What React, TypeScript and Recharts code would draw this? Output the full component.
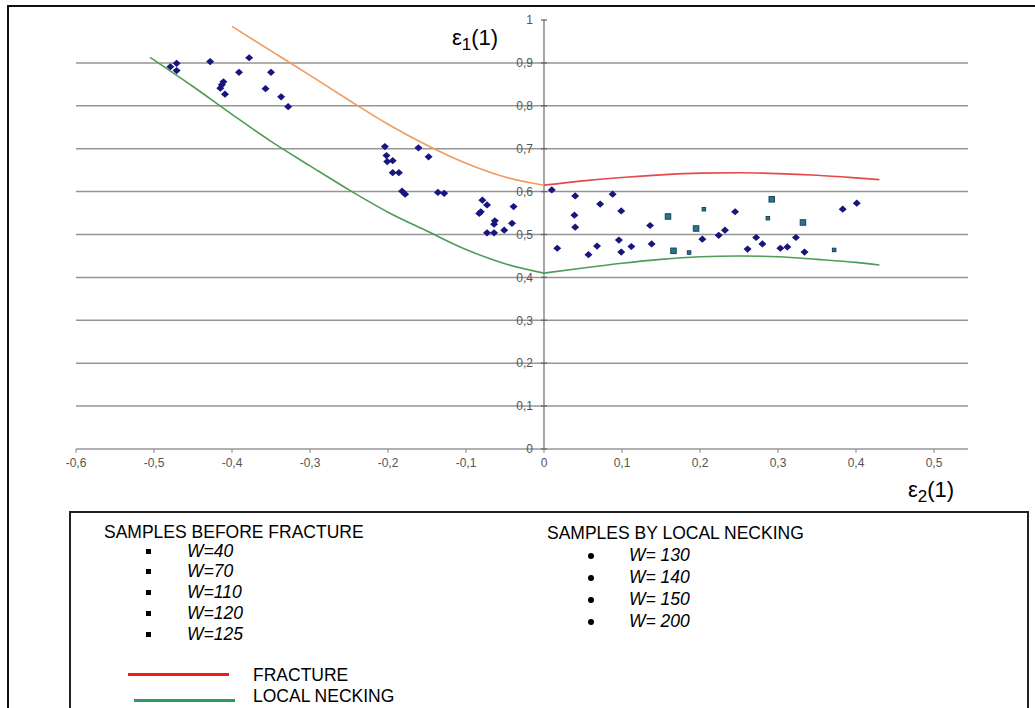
import {
  ComposedChart, XAxis, YAxis, Line, Scatter, ReferenceLine, ReferenceDot,
} from 'recharts'

const FONT = 'Arial, "Liberation Sans", sans-serif'

// axis ticks and grid
const xTicks = [-0.6, -0.5, -0.4, -0.3, -0.2, -0.1, 0, 0.1, 0.2, 0.3, 0.4, 0.5]
const yTicks = [0, 0.1, 0.2, 0.3, 0.4, 0.5, 0.6, 0.7, 0.8, 0.9, 1]
const gridValues = [0.1, 0.2, 0.3, 0.4, 0.5, 0.6, 0.7, 0.8, 0.9]

// limit curves
const fractureLeft = [
  { x: -0.4, y: 0.985 }, { x: -0.35, y: 0.928 }, { x: -0.3, y: 0.871 },
  { x: -0.25, y: 0.813 }, { x: -0.2, y: 0.757 }, { x: -0.15, y: 0.708 },
  { x: -0.1, y: 0.666 }, { x: -0.05, y: 0.634 }, { x: 0, y: 0.615 },
]
const fractureRight = [
  { x: 0, y: 0.615 }, { x: 0.05, y: 0.625 }, { x: 0.1, y: 0.633 },
  { x: 0.15, y: 0.639 }, { x: 0.2, y: 0.643 }, { x: 0.25, y: 0.644 },
  { x: 0.3, y: 0.642 }, { x: 0.35, y: 0.638 }, { x: 0.4, y: 0.632 },
  { x: 0.43, y: 0.628 },
]
const neckingLeft = [
  { x: -0.505, y: 0.913 }, { x: -0.45, y: 0.845 }, { x: -0.4, y: 0.78 },
  { x: -0.35, y: 0.717 }, { x: -0.3, y: 0.66 }, { x: -0.25, y: 0.604 },
  { x: -0.2, y: 0.552 }, { x: -0.15, y: 0.508 }, { x: -0.1, y: 0.465 },
  { x: -0.05, y: 0.432 }, { x: 0, y: 0.41 },
]
const neckingRight = [
  { x: 0, y: 0.41 }, { x: 0.05, y: 0.422 }, { x: 0.1, y: 0.433 },
  { x: 0.15, y: 0.442 }, { x: 0.2, y: 0.448 }, { x: 0.25, y: 0.45 },
  { x: 0.3, y: 0.448 }, { x: 0.35, y: 0.442 }, { x: 0.4, y: 0.435 },
  { x: 0.43, y: 0.429 },
]

// measured samples
const diamondPoints = [
  { x: -0.471, y: 0.899 }, { x: -0.479, y: 0.891 }, { x: -0.471, y: 0.882 },
  { x: -0.428, y: 0.903 }, { x: -0.378, y: 0.912 }, { x: -0.391, y: 0.878 },
  { x: -0.35, y: 0.878 }, { x: -0.411, y: 0.856 }, { x: -0.413, y: 0.849 },
  { x: -0.415, y: 0.841 }, { x: -0.409, y: 0.827 }, { x: -0.357, y: 0.84 },
  { x: -0.337, y: 0.821 }, { x: -0.328, y: 0.798 },
  { x: -0.204, y: 0.705 }, { x: -0.202, y: 0.684 }, { x: -0.201, y: 0.67 },
  { x: -0.194, y: 0.672 }, { x: -0.194, y: 0.644 }, { x: -0.186, y: 0.644 },
  { x: -0.182, y: 0.601 }, { x: -0.178, y: 0.594 }, { x: -0.161, y: 0.702 },
  { x: -0.148, y: 0.681 }, { x: -0.136, y: 0.598 }, { x: -0.128, y: 0.596 },
  { x: -0.079, y: 0.58 }, { x: -0.073, y: 0.569 }, { x: -0.081, y: 0.553 },
  { x: -0.083, y: 0.549 }, { x: -0.063, y: 0.532 }, { x: -0.064, y: 0.524 },
  { x: -0.039, y: 0.565 }, { x: -0.041, y: 0.526 }, { x: -0.073, y: 0.504 },
  { x: -0.064, y: 0.504 }, { x: -0.051, y: 0.51 },
  { x: 0.01, y: 0.604 }, { x: 0.017, y: 0.468 }, { x: 0.04, y: 0.59 },
  { x: 0.088, y: 0.594 }, { x: 0.072, y: 0.571 }, { x: 0.099, y: 0.555 },
  { x: 0.039, y: 0.545 }, { x: 0.04, y: 0.517 }, { x: 0.136, y: 0.521 },
  { x: 0.057, y: 0.453 }, { x: 0.068, y: 0.473 }, { x: 0.096, y: 0.487 },
  { x: 0.099, y: 0.459 }, { x: 0.112, y: 0.472 }, { x: 0.138, y: 0.478 },
  { x: 0.203, y: 0.489 }, { x: 0.224, y: 0.498 },
  { x: 0.245, y: 0.553 }, { x: 0.232, y: 0.51 }, { x: 0.272, y: 0.493 },
  { x: 0.28, y: 0.478 }, { x: 0.261, y: 0.466 }, { x: 0.303, y: 0.468 },
  { x: 0.312, y: 0.471 }, { x: 0.323, y: 0.493 }, { x: 0.334, y: 0.459 },
  { x: 0.383, y: 0.559 }, { x: 0.401, y: 0.573 },
]
const squarePoints = [
  { x: 0.159, y: 0.542 }, { x: 0.195, y: 0.514 }, { x: 0.166, y: 0.462 },
  { x: 0.292, y: 0.582 }, { x: 0.332, y: 0.528 },
]
const smallSquarePoints = [
  { x: 0.205, y: 0.559 }, { x: 0.186, y: 0.458 }, { x: 0.287, y: 0.538 },
  { x: 0.372, y: 0.464 },
]

// legend entries
const legendBefore = ['W=40', 'W=70', 'W=110', 'W=120', 'W=125']
const legendNecking = ['W= 130', 'W= 140', 'W= 150', 'W= 200']

const fmt = (v: number) => String(Number(v.toFixed(1))).replace('.', ',')

const Diamond = (p: any) => {
  const { cx, cy } = p
  if (cx == null || cy == null) return null
  return (
    <path
      d={`M${cx},${cy - 3.6} L${cx + 4},${cy} L${cx},${cy + 3.6} L${cx - 4},${cy} Z`}
      fill="#16167e"
    />
  )
}

const makeSquare = (s: number) => (p: any) => {
  const { cx, cy } = p
  if (cx == null || cy == null) return null
  return (
    <rect x={cx - s / 2} y={cy - s / 2} width={s} height={s}
      fill="#2d7390" stroke="#17445a" strokeWidth={1} />
  )
}

const YTickMark = (p: any) => {
  const { cx, cy, label } = p
  return (
    <g>
      <line x1={cx - 3} x2={cx + 3} y1={cy} y2={cy} stroke="#666" strokeWidth={1.3} />
      <text x={cx - 11} y={cy} dy="0.35em" textAnchor="end"
        fontSize={12} fill="#555" fontFamily={FONT}>{label}</text>
    </g>
  )
}

export default function App() {
  return (
    <div style={{
      position: 'absolute', left: 0, top: 0, width: 1035, height: 708,
      overflow: 'hidden', background: '#fff', fontFamily: FONT,
    }}>
      {/* outer frame */}
      <div style={{
        position: 'absolute', left: 7, top: 5, width: 1100, height: 800,
        borderTop: '2px solid #111', borderLeft: '2px solid #111',
      }} />

      <div style={{ position: 'absolute', left: 0, top: 0 }}>
        <ComposedChart width={1035} height={500}
          margin={{ top: 20, right: 67, left: 76, bottom: 21 }}>
          <XAxis
            type="number"
            dataKey="x"
            domain={[-0.6, 0.5436]}
            allowDataOverflow
            ticks={xTicks}
            interval={0}
            tickFormatter={fmt}
            height={30}
            tickSize={4}
            tickMargin={5}
            tick={{ fontSize: 12, fill: '#555', fontFamily: FONT }}
            tickLine={{ stroke: '#888' }}
            axisLine={{ stroke: '#999', strokeWidth: 1.5 }}
          />
          <YAxis type="number" dataKey="y" domain={[0, 1]} hide allowDataOverflow />

          {gridValues.map(v => (
            <ReferenceLine key={`g${v}`} y={v} stroke="#959595" strokeWidth={1.5} />
          ))}
          <ReferenceLine x={0} stroke="#8a8a8a" strokeWidth={1.5} />
          {yTicks.map(v => (
            <ReferenceDot key={`t${v}`} x={0} y={v} r={0}
              shape={(p: any) => <YTickMark {...p} label={fmt(v)} />} />
          ))}

          <Line data={fractureLeft} dataKey="y" type="monotone" stroke="#f29a5e"
            strokeWidth={1.6} dot={false} isAnimationActive={false} />
          <Line data={fractureRight} dataKey="y" type="monotone" stroke="#e6494b"
            strokeWidth={1.6} dot={false} isAnimationActive={false} />
          <Line data={neckingLeft} dataKey="y" type="monotone" stroke="#4e9c55"
            strokeWidth={1.6} dot={false} isAnimationActive={false} />
          <Line data={neckingRight} dataKey="y" type="monotone" stroke="#4e9c55"
            strokeWidth={1.6} dot={false} isAnimationActive={false} />

          <Scatter data={diamondPoints} dataKey="y" shape={Diamond} isAnimationActive={false} />
          <Scatter data={squarePoints} dataKey="y" shape={makeSquare(5.5)} isAnimationActive={false} />
          <Scatter data={smallSquarePoints} dataKey="y" shape={makeSquare(3.5)} isAnimationActive={false} />
        </ComposedChart>
      </div>

      {/* axis titles */}
      <div style={{ position: 'absolute', left: 452, top: 27, fontSize: 22, lineHeight: 1, color: '#000', whiteSpace: 'nowrap' }}>
        ε<sub style={{ fontSize: 17 }}>1</sub>(1)
      </div>
      <div style={{ position: 'absolute', left: 908, top: 479, fontSize: 22, lineHeight: 1, color: '#000', whiteSpace: 'nowrap' }}>
        ε<sub style={{ fontSize: 17 }}>2</sub>(1)
      </div>

      {/* legend box */}
      <div style={{
        position: 'absolute', left: 69, top: 511, width: 960, height: 260,
        border: '2px solid #222', boxSizing: 'border-box',
      }} />

      <div style={{ position: 'absolute', left: 104, top: 521.5, fontSize: 17.5, color: '#000' }}>
        <div style={{ height: 19, lineHeight: '20.9px', whiteSpace: 'nowrap' }}>SAMPLES BEFORE FRACTURE</div>
        {legendBefore.map(t => (
          <div key={t} style={{ height: 20.9, lineHeight: '20.9px', position: 'relative' }}>
            <span style={{
              position: 'absolute', left: 42, top: 8, width: 5, height: 5, background: '#000',
            }} />
            <span style={{ position: 'absolute', left: 83, fontStyle: 'italic', whiteSpace: 'nowrap' }}>{t}</span>
          </div>
        ))}
      </div>

      <div style={{ position: 'absolute', left: 547, top: 522.9, fontSize: 17.5, color: '#000' }}>
        <div style={{ height: 22.1, lineHeight: '20.9px', whiteSpace: 'nowrap' }}>SAMPLES BY LOCAL NECKING</div>
        {legendNecking.map(t => (
          <div key={t} style={{ height: 21.9, lineHeight: '21.9px', position: 'relative' }}>
            <span style={{
              position: 'absolute', left: 41, top: 8, width: 6, height: 6,
              borderRadius: '50%', background: '#000',
            }} />
            <span style={{ position: 'absolute', left: 82, fontStyle: 'italic', whiteSpace: 'nowrap' }}>{t}</span>
          </div>
        ))}
      </div>

      <div style={{ position: 'absolute', left: 128, top: 672.5, width: 101, height: 3, background: '#ee1c1c' }} />
      <div style={{ position: 'absolute', left: 253, top: 665, fontSize: 17.5, lineHeight: '20px', whiteSpace: 'nowrap' }}>FRACTURE</div>
      <div style={{ position: 'absolute', left: 134, top: 699, width: 101, height: 3, background: '#2f9a62' }} />
      <div style={{ position: 'absolute', left: 253, top: 686, fontSize: 17.5, lineHeight: '20px', whiteSpace: 'nowrap' }}>LOCAL NECKING</div>
    </div>
  )
}
